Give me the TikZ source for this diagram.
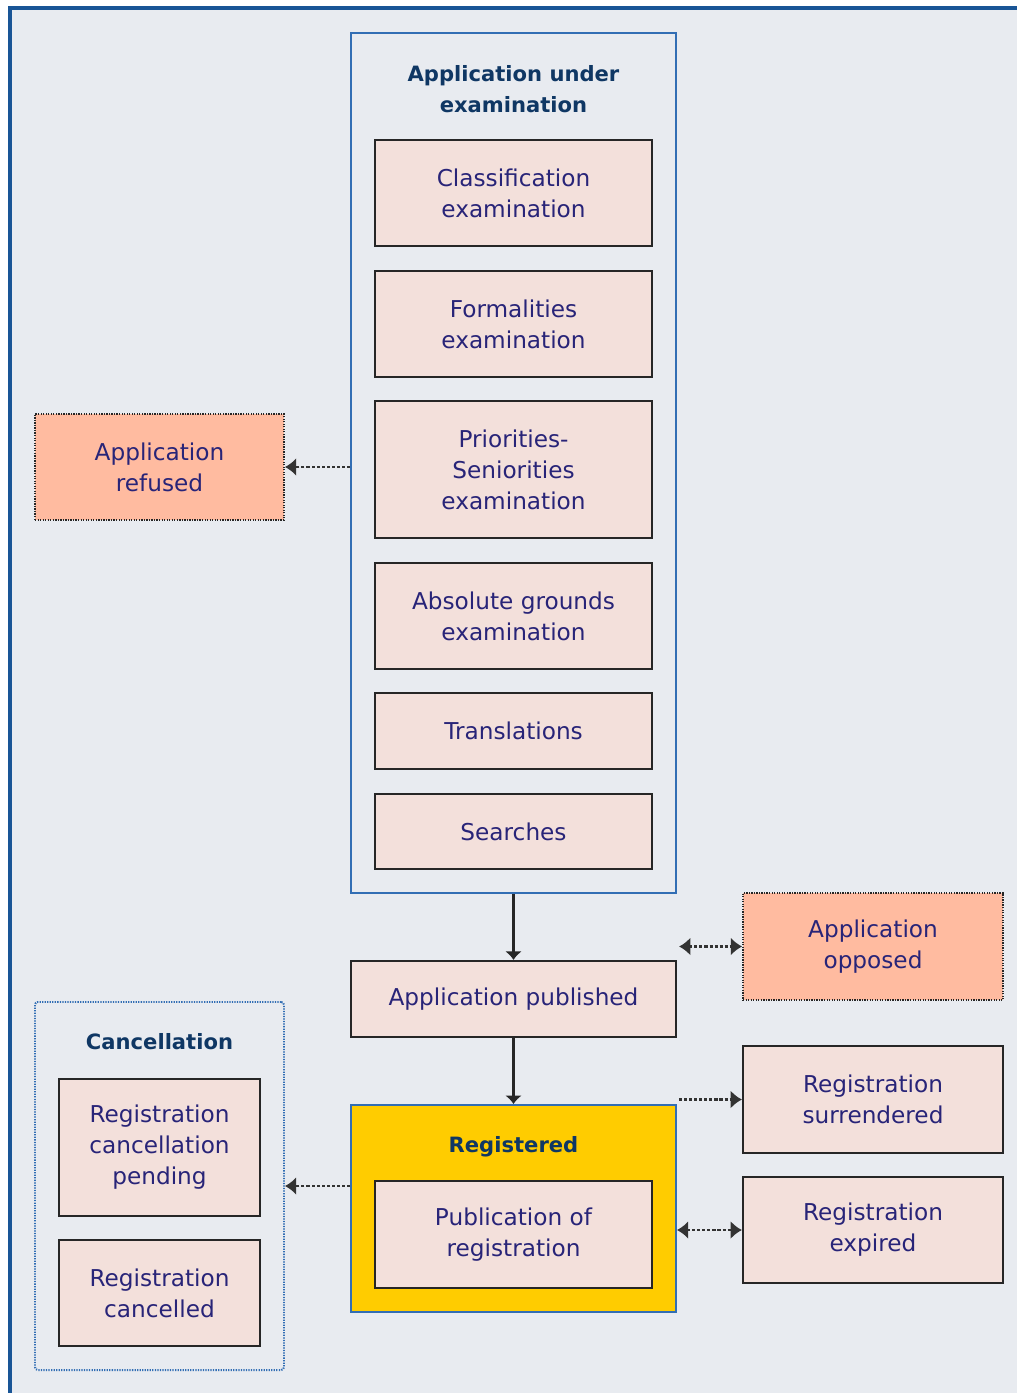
\documentclass[tikz,border=0pt]{standalone}
\usepackage{fontspec}
\setmainfont{DejaVu Sans}
\usetikzlibrary{arrows.meta,positioning,calc}
\definecolor{pagebg}{RGB}{232,235,240}
\definecolor{frameblue}{RGB}{25,85,150}
\definecolor{groupblue}{RGB}{50,110,180}
\definecolor{boxpink}{RGB}{243,224,219}
\definecolor{salmon}{RGB}{255,187,160}
\definecolor{regyellow}{RGB}{255,204,0}
\definecolor{boxtext}{RGB}{40,36,120}
\definecolor{headblue}{RGB}{15,55,100}

\begin{document}
\begin{tikzpicture}[
    >={Latex[length=8pt,width=13pt]},
    font=\fontsize{16.5}{22}\selectfont,
    box/.style={
        draw=black!85,
        line width=1.6pt,
        fill=boxpink,
        text=boxtext,
        minimum width=6.925cm,
        align=center,
        inner sep=0pt
    },
    sidebox/.style={
        box,
        minimum width=6.5cm
    },
    outcome/.style={
        box,
        fill=salmon,
        line width=1.4pt,
        dash pattern=on 0.9pt off 0.9pt
    },
    group/.style={
        draw=groupblue,
        line width=1.4pt,
        minimum width=8.125cm,
        inner sep=0pt
    },
    head/.style={
        font=\fontsize{15}{22}\selectfont\bfseries,
        text=headblue,
        align=center
    },
    flow/.style={->, >={Latex[length=6pt,width=12pt]}, line width=1.9pt, draw=black!85},
    link/.style={line width=2pt, draw=black!80, dash pattern=on 2.2pt off 1.4pt}
]
\useasboundingbox (0,0) rectangle (25.4,-34.825);

% background and frame
\fill[pagebg] (0.25,-35.5) rectangle (26,-0.2);
\draw[line width=2.8pt, draw=frameblue] (0.25,-35.5) -- (0.25,-0.2) -- (26,-0.2);

% examination stage
\node[group, minimum height=21.5cm] (exam) at (12.8375,-11.575) {};
\node[head] (examtitle) at (12.8375,-2.22) {Application under\\examination};
\node[box, minimum height=2.65cm] (classif) at (12.8375,-4.825) {Classification\\examination};
\node[box, minimum height=2.65cm] (formal) at (12.8375,-8.1) {Formalities\\examination};
\node[box, minimum height=3.425cm] (prior) at (12.8375,-11.7375) {Priorities-\\Seniorities\\examination};
\node[box, minimum height=2.65cm] (absolute) at (12.8375,-15.4) {Absolute grounds\\examination};
\node[box, minimum height=1.9cm] (transl) at (12.8375,-18.275) {Translations};
\node[box, minimum height=1.875cm] (search) at (12.8375,-20.7875) {Searches};

\node[outcome, minimum width=6.225cm, minimum height=2.65cm] (refused) at (3.9875,-11.675) {Application\\refused};

% publication
\node[box, minimum width=8.125cm, minimum height=1.9cm] (published) at (12.8375,-24.975) {Application published};
\node[outcome, minimum width=6.5cm, minimum height=2.675cm] (opposed) at (21.825,-23.6625) {Application\\opposed};

% registration
\node[group, fill=regyellow, minimum height=5.175cm] (registered) at (12.8375,-30.2125) {};
\node[head] (regtitle) at (12.8375,-28.67) {Registered};
\node[box, minimum height=2.675cm] (pubreg) at (12.8375,-30.8625) {Publication of\\registration};

\node[sidebox, minimum height=2.675cm] (surrendered) at (21.825,-27.4875) {Registration\\surrendered};
\node[sidebox, minimum height=2.65cm] (expired) at (21.825,-30.75) {Registration\\expired};

% cancellation
\node[group, minimum width=6.225cm, minimum height=9.2cm, rounded corners=2pt,
      dash pattern=on 0.9pt off 0.9pt] (cancel) at (3.9875,-29.65) {};
\node[head] (canceltitle) at (3.9875,-26.05) {Cancellation};
\node[box, minimum width=5.025cm, minimum height=3.425cm] (pending) at (3.9875,-28.6875) {Registration\\cancellation\\pending};
\node[box, minimum width=5.025cm, minimum height=2.65cm] (cancelled) at (3.9875,-32.325) {Registration\\cancelled};

\draw[flow] (exam.south) -- (published.north);
\draw[flow] (published.south) -- (registered.north);
\draw[link, ->] (exam.west |- refused.east) -- (refused.east);
\draw[link, <->] ($(published.east |- opposed.west)+(0.05,0)$) -- (opposed.west);
\draw[link, ->] ($(registered.east |- surrendered.west)+(0.05,0)$) -- (surrendered.west);
\draw[link, <->] (registered.east |- expired.west) -- (expired.west);
\draw[link, ->] (registered.west |- cancel.east) -- (cancel.east);

\end{tikzpicture}
\end{document}
